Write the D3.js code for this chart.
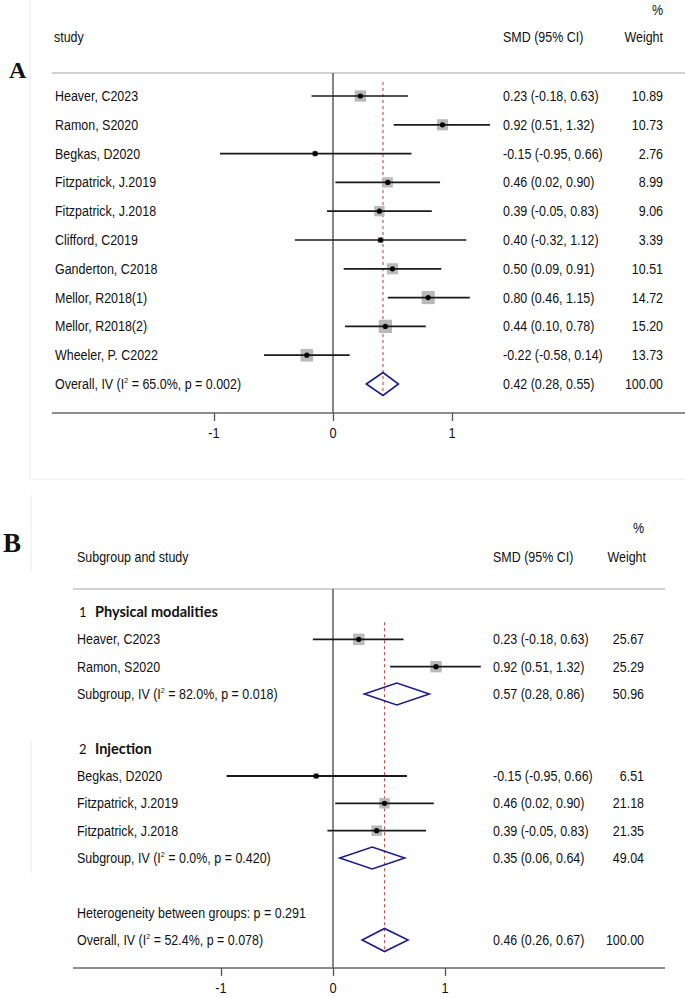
<!DOCTYPE html>
<html>
<head>
<meta charset="utf-8">
<script src="https://cdn.jsdelivr.net/npm/d3@7"></script>
<style>
  html, body { margin: 0; padding: 0; background: #fff; }
  svg { display: block; }
</style>
</head>
<body>
<svg id="chart" width="685" height="998"></svg>
<script>
// ---------------- DATA ----------------
// Panel A
const studiesA = ["Heaver, C2023", "Ramon, S2020", "Begkas, D2020", "Fitzpatrick, J.2019",
  "Fitzpatrick, J.2018", "Clifford, C2019", "Ganderton, C2018", "Mellor, R2018(1)",
  "Mellor, R2018(2)", "Wheeler, P. C2022"];
const smdA    = [0.23, 0.92, -0.15, 0.46, 0.39, 0.40, 0.50, 0.80, 0.44, -0.22];
const lowA    = [-0.18, 0.51, -0.95, 0.02, -0.05, -0.32, 0.09, 0.46, 0.10, -0.58];
const highA   = [0.63, 1.32, 0.66, 0.90, 0.83, 1.12, 0.91, 1.15, 0.78, 0.14];
const weightA = [10.89, 10.73, 2.76, 8.99, 9.06, 3.39, 10.51, 14.72, 15.20, 13.73];
const overallA = { label: "Overall, IV", i2: "65.0%", p: "0.002", smd: 0.42, low: 0.28, high: 0.55, weight: 100.00 };

// Panel B
const groupNamesB = ["Physical modalities", "Injection"];
const studiesB1 = ["Heaver, C2023", "Ramon, S2020"];
const smdB1     = [0.23, 0.92];
const lowB1     = [-0.18, 0.51];
const highB1    = [0.63, 1.32];
const weightB1  = [25.67, 25.29];
const studiesB2 = ["Begkas, D2020", "Fitzpatrick, J.2019", "Fitzpatrick, J.2018"];
const smdB2     = [-0.15, 0.46, 0.39];
const lowB2     = [-0.95, 0.02, -0.05];
const highB2    = [0.66, 0.90, 0.83];
const weightB2  = [6.51, 21.18, 21.35];
const subgroupsB = [
  { label: "Subgroup, IV", i2: "82.0%", p: "0.018", smd: 0.57, low: 0.28, high: 0.86, weight: 50.96 },
  { label: "Subgroup, IV", i2: "0.0%",  p: "0.420", smd: 0.35, low: 0.06, high: 0.64, weight: 49.04 }
];
const heterogeneityB = "Heterogeneity between groups: p = 0.291";
const overallB = { label: "Overall, IV", i2: "52.4%", p: "0.078", smd: 0.46, low: 0.26, high: 0.67, weight: 100.00 };

const tickValues = [-1, 0, 1];

// ---------------- DRAWING ----------------
const svg = d3.select("#chart");
const FONT = "'Liberation Sans', Arial, sans-serif";
const SX = 0.89;          // horizontal squeeze of the original typeface
const locale = d3.formatLocale({ decimal: ".", thousands: ",", grouping: [3], currency: ["", ""], minus: "-" });
const fmt = locale.format(".2f");
const ciText = (s, l, h) => `${fmt(s)} (${fmt(l)}, ${fmt(h)})`;
const INK = "#111";

function txt(g, x, y, s, o = {}) {
  return g.append("text")
    .attr("transform", `translate(${x},${y}) scale(${o.sx ?? SX},1)`)
    .attr("text-anchor", o.anchor || "start")
    .attr("font-family", o.family || FONT)
    .attr("font-size", o.size || 14)
    .attr("font-weight", o.weight || "normal")
    .attr("fill", o.fill || INK)
    .text(s);
}
function statLabel(g, x, y, d) {
  const t = g.append("text")
    .attr("transform", `translate(${x},${y}) scale(${SX},1)`)
    .attr("font-family", FONT).attr("font-size", 14).attr("fill", INK);
  t.append("tspan").text(`${d.label} (I`);
  t.append("tspan").attr("dy", -6).attr("font-size", 8).text("2");
  t.append("tspan").attr("dy", 6).text(` = ${d.i2}, p = ${d.p})`);
}
function diamond(g, x, y, d, hh) {
  const pts = [[x(d.low), y], [x(d.smd), y - hh], [x(d.high), y], [x(d.smd), y + hh]];
  g.append("path").attr("d", d3.line()(pts) + "Z")
    .attr("fill", "none").attr("stroke", "#1c1c8c").attr("stroke-width", 1.6);
}
function study(g, x, y, sz, s, l, h, w, lw) {
  const side = sz(w);
  g.append("rect").attr("x", x(s) - side / 2).attr("y", y - side / 2)
    .attr("width", side).attr("height", side).attr("fill", "#b9b9b9");
  g.append("line").attr("x1", x(l)).attr("x2", x(h)).attr("y1", y).attr("y2", y)
    .attr("stroke", "#1a1a1a").attr("stroke-width", lw);
  g.append("circle").attr("cx", x(s)).attr("cy", y).attr("r", 2.6).attr("fill", "#000");
}
function axis(g, x, y, x0, x1) {
  g.append("line").attr("x1", x0).attr("x2", x1).attr("y1", y).attr("y2", y)
    .attr("stroke", "#666").attr("stroke-width", 1.4);
  const ax = g.append("g").attr("transform", `translate(0,${y})`)
    .call(d3.axisBottom(x).tickValues(tickValues).tickSize(8).tickSizeOuter(0).tickFormat(d => String(d)));
  ax.select(".domain").remove();
  ax.selectAll(".tick line").attr("stroke", "#555").attr("stroke-width", 1.3);
  ax.selectAll(".tick text").remove();
  tickValues.forEach(v => txt(g, x(v), y + 25, String(v), { anchor: "middle", size: 15, sx: 0.85, fill: "#111" }));
}

// faint frame remnants
const frame = svg.append("g").attr("stroke", "#ececec").attr("stroke-width", 1);
frame.append("line").attr("x1", 30).attr("x2", 30).attr("y1", 0).attr("y2", 479);
frame.append("line").attr("x1", 30).attr("x2", 685).attr("y1", 479).attr("y2", 479);
frame.append("line").attr("x1", 31).attr("x2", 31).attr("y1", 495).attr("y2", 572);
frame.append("line").attr("x1", 31).attr("x2", 31).attr("y1", 740).attr("y2", 873);

// ===== Panel A =====
{
  const g = svg.append("g");
  const x = d3.scaleLinear().domain([-1, 1]).range([214, 452]);
  const y = d3.scaleLinear().domain([0, 10]).range([96, 384]);
  const sz = d3.scaleSqrt().domain([0, 15.2]).range([0, 13.3]);

  g.append("text").attr("x", 9).attr("y", 78).attr("font-family", "'Liberation Serif', 'Times New Roman', serif")
    .attr("font-size", 24).attr("font-weight", "bold").attr("fill", "#111").text("A");
  txt(g, 663, 15, "%", { anchor: "end" });
  txt(g, 54, 42, "study");
  txt(g, 503, 42, "SMD (95% CI)");
  txt(g, 663, 42, "Weight", { anchor: "end" });
  g.append("line").attr("x1", 52).attr("x2", 685).attr("y1", 73).attr("y2", 73)
    .attr("stroke", "#c4c4c4").attr("stroke-width", 1.6);

  g.append("line").attr("x1", x(0)).attr("x2", x(0)).attr("y1", 73).attr("y2", 413)
    .attr("stroke", "#222").attr("stroke-width", 1.1);
  g.append("line").attr("x1", x(overallA.smd)).attr("x2", x(overallA.smd)).attr("y1", 82).attr("y2", y(10) + 12)
    .attr("stroke", "#c94a4a").attr("stroke-width", 1.1).attr("stroke-dasharray", "3,3");

  studiesA.forEach((name, i) => {
    const yy = y(i);
    study(g, x, yy, sz, smdA[i], lowA[i], highA[i], weightA[i], 1.7);
    txt(g, 55, yy + 5, name);
    txt(g, 503, yy + 5, ciText(smdA[i], lowA[i], highA[i]));
    txt(g, 663, yy + 5, fmt(weightA[i]), { anchor: "end" });
  });
  const yo = y(10);
  diamond(g, x, yo, overallA, 11.5);
  statLabel(g, 55, yo + 5, overallA);
  txt(g, 503, yo + 5, ciText(overallA.smd, overallA.low, overallA.high));
  txt(g, 663, yo + 5, fmt(overallA.weight), { anchor: "end" });

  axis(g, x, 413, 52, 685);
}

// ===== Panel B =====
{
  const g = svg.append("g");
  const x = d3.scaleLinear().domain([-1, 1]).range([221, 445]);
  const y = d3.scaleLinear().domain([0, 12]).range([612, 940]);
  const sz = d3.scaleSqrt().domain([0, 25.67]).range([0, 11.5]);

  g.append("text").attr("x", 3).attr("y", 552).attr("font-family", "'Liberation Serif', 'Times New Roman', serif")
    .attr("font-size", 27).attr("font-weight", "bold").attr("fill", "#111").text("B");
  txt(g, 644, 533, "%", { anchor: "end" });
  txt(g, 77, 562, "Subgroup and study");
  txt(g, 493, 562, "SMD (95% CI)");
  txt(g, 646, 562, "Weight", { anchor: "end" });
  g.append("line").attr("x1", 73).attr("x2", 665).attr("y1", 589).attr("y2", 589)
    .attr("stroke", "#c4c4c4").attr("stroke-width", 1.6);

  g.append("line").attr("x1", x(0)).attr("x2", x(0)).attr("y1", 589).attr("y2", 968)
    .attr("stroke", "#222").attr("stroke-width", 1.1);
  g.append("line").attr("x1", x(overallB.smd)).attr("x2", x(overallB.smd)).attr("y1", y(1) - 17).attr("y2", y(12) + 12)
    .attr("stroke", "#c94a4a").attr("stroke-width", 1.1).attr("stroke-dasharray", "3,3");

  const groups = [
    { row: 0, num: "1", name: groupNamesB[0], studies: studiesB1, smd: smdB1, low: lowB1, high: highB1, w: weightB1, sub: subgroupsB[0] },
    { row: 5, num: "2", name: groupNamesB[1], studies: studiesB2, smd: smdB2, low: lowB2, high: highB2, w: weightB2, sub: subgroupsB[1] }
  ];
  groups.forEach(gr => {
    const yh = y(gr.row);
    g.append("text").attr("x", 79).attr("y", yh + 5).attr("font-family", "Lato, 'Open Sans', sans-serif")
      .attr("font-size", 13).attr("fill", "#111").text(gr.num);
    g.append("text").attr("x", 95).attr("y", yh + 5).attr("font-family", "Lato, 'Open Sans', sans-serif")
      .attr("font-size", 14.5).attr("font-weight", "bold").attr("fill", "#111").text(gr.name);
    gr.studies.forEach((name, i) => {
      const yy = y(gr.row + 1 + i);
      study(g, x, yy, sz, gr.smd[i], gr.low[i], gr.high[i], gr.w[i], 1.9);
      txt(g, 77, yy + 5, name);
      txt(g, 493, yy + 5, ciText(gr.smd[i], gr.low[i], gr.high[i]));
      txt(g, 644, yy + 5, fmt(gr.w[i]), { anchor: "end" });
    });
    const ys = y(gr.row + 1 + gr.studies.length);
    diamond(g, x, ys, gr.sub, 11);
    statLabel(g, 77, ys + 5, gr.sub);
    txt(g, 493, ys + 5, ciText(gr.sub.smd, gr.sub.low, gr.sub.high));
    txt(g, 644, ys + 5, fmt(gr.sub.weight), { anchor: "end" });
  });

  txt(g, 77, y(11) + 5, heterogeneityB);
  const yo = y(12);
  diamond(g, x, yo, overallB, 11.5);
  statLabel(g, 77, yo + 5, overallB);
  txt(g, 493, yo + 5, ciText(overallB.smd, overallB.low, overallB.high));
  txt(g, 644, yo + 5, fmt(overallB.weight), { anchor: "end" });

  axis(g, x, 968, 73, 665);
}
</script>
</body>
</html>
